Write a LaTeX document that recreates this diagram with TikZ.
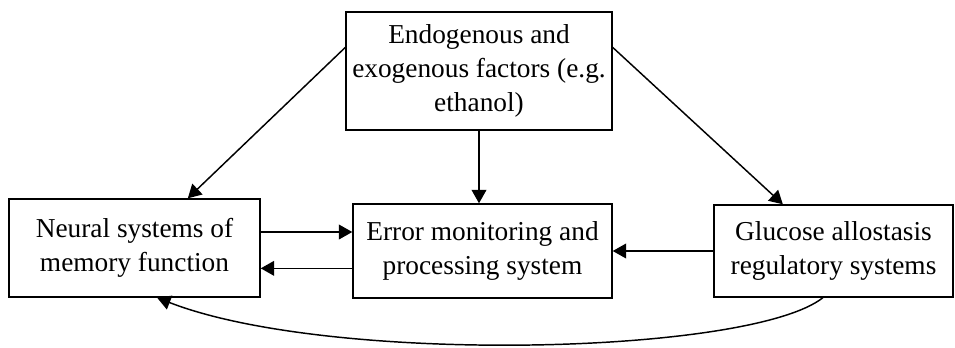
\documentclass[tikz,border=0pt]{standalone}
\usepackage{fontspec}
\setmainfont{Liberation Serif}
\usetikzlibrary{arrows.meta}

\begin{document}
\begin{tikzpicture}[x=0.75pt,y=-0.75pt,
	box_node/.style={rectangle,draw,line width=1.1pt,align=center,inner sep=2pt,
		font=\fontsize{20.5}{25.5}\selectfont},
	link/.style={line width=1.1pt,-{Triangle[length=10pt,width=11pt]}}]
		
		\useasboundingbox (0,0) rectangle (955,347);
		
		\node[box_node,minimum width=199.5pt,minimum height=88.5pt] (factors) at (479,71) {Endogenous and\\exogenous factors (e.g.\\ethanol)};
		\node[box_node,minimum width=188.25pt,minimum height=73.5pt] (memory) at (134.5,248) {Neural systems of\\memory function};
		\node[box_node,minimum width=194.25pt,minimum height=70.5pt] (error) at (482.5,251) {Error monitoring and\\processing system};
		\node[box_node,minimum width=179.25pt,minimum height=69pt] (glucose) at (833.5,251) {Glucose allostasis\\regulatory systems};
		
		\draw[link] (factors.170) -- ([xshift=40pt]memory.north);
		\draw[link] (factors.10) -- ([xshift=-38pt]glucose.north);
		\draw[link] (factors.south) -- (factors.south |- error.north);
		\draw[link] ([yshift=12pt]memory.east) -- ([yshift=12pt]memory.east -| error.west);
		\draw[link] ([yshift=-13pt]error.west) -- ([yshift=-13pt]error.west -| memory.east);
		\draw[link] (glucose.west) -- (glucose.west -| error.east);
		\draw[link] ([xshift=-8pt]glucose.south) .. controls (750,355) and (330,365) .. ([xshift=17pt]memory.south);
		
\end{tikzpicture}
\end{document}
